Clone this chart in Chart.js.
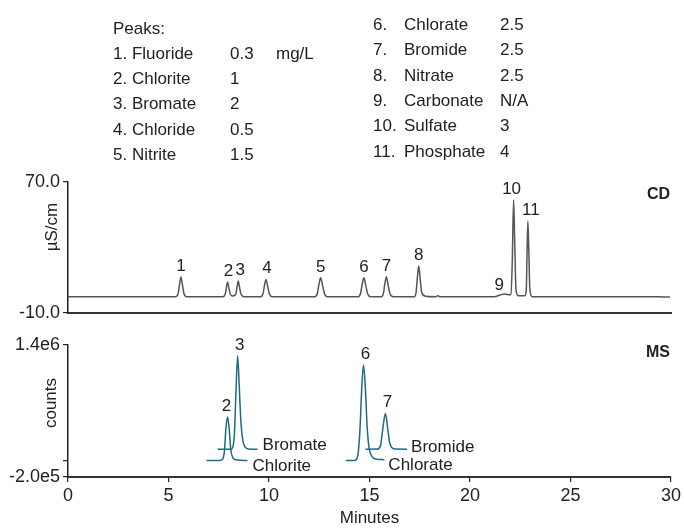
<!DOCTYPE html>
<html>
<head>
<meta charset="utf-8">
<title>CD / MS chromatogram</title>
<script src="https://cdn.jsdelivr.net/npm/chart.js@4.4.1/dist/chart.umd.min.js"></script>
<style>
  html, body { margin: 0; padding: 0; background: #fff; }
  #wrap { position: relative; width: 684px; height: 529px; }
  #cd-chart { position: absolute; left: 0; top: 0; }
  #ms-chart { position: absolute; left: 0; top: 330px; }
</style>
</head>
<body>
<div id="wrap">
  <canvas id="cd-chart" width="684" height="330"></canvas>
  <canvas id="ms-chart" width="684" height="199"></canvas>
</div>
<script>
/* ============================================
   Anion chromatogram — conductivity (CD) over MS
   ============================================ */

// --- Peak table ---
const peakNames = ['Fluoride', 'Chlorite', 'Bromate', 'Chloride', 'Nitrite', 'Chlorate',
                   'Bromide', 'Nitrate', 'Carbonate', 'Sulfate', 'Phosphate'];
const peakConc = ['0.3', '1', '2', '0.5', '1.5', '2.5', '2.5', '2.5', 'N/A', '3', '4'];
const concUnit = 'mg/L';

// --- Axes ---
const xTicks = [0, 5, 10, 15, 20, 25, 30];
const cdTicks = [-10, 70];
const msTicks = [-2e5, 0, 1.4e6];

// --- CD trace (minutes, µS/cm) ---
const cdTime = [
  0.00, 5.36, 5.48, 5.55, 5.62, 5.69, 5.77, 5.90,
  7.70, 7.82, 7.88, 7.94, 8.00, 8.08, 8.20,
  8.35, 8.41, 8.47, 8.53, 8.61, 8.75,
  9.58, 9.70, 9.77, 9.85, 9.93, 10.02, 10.15,
  12.28, 12.40, 12.48, 12.57, 12.66, 12.76, 12.90,
  14.44, 14.55, 14.63, 14.72, 14.81, 14.91, 15.05,
  15.58, 15.69, 15.76, 15.84, 15.92, 16.02, 16.18,
  17.22, 17.32, 17.38, 17.45, 17.52, 17.60, 17.78,
  18.30, 18.40, 18.50,
  21.20, 21.50, 21.70, 21.90, 22.04, 22.10, 22.17, 22.23, 22.29, 22.40,
  22.72, 22.80, 22.84, 22.88, 22.93, 22.98, 23.10,
  29.50, 29.55, 29.95
];
const cdSignal = [
  0.0, 0.0, 1.8, 7.5, 12.0, 7.5, 1.8, 0.0,
  0.0, 1.5, 5.5, 9.0, 5.5, 1.3, 0.4,
  1.5, 6.0, 9.5, 6.0, 1.4, 0.0,
  0.0, 1.6, 6.5, 10.5, 6.5, 1.6, 0.0,
  0.0, 1.8, 7.2, 11.5, 7.2, 1.8, 0.0,
  0.0, 1.8, 7.2, 11.5, 7.0, 1.6, 0.0,
  0.0, 1.9, 7.6, 12.2, 7.4, 1.8, 0.0,
  0.0, 2.8, 11.5, 18.7, 11.0, 2.5, 0.3,
  0.0, 0.6, 0.0,
  0.0, 1.0, 1.6, 1.2, 1.3, 20.0, 59.0, 30.0, 4.0, 0.6,
  0.5, 4.0, 28.0, 46.0, 26.0, 4.0, 0.0,
  0.0, -0.3, -0.3
];
const cdPeakIds = ['1', '2', '3', '4', '5', '6', '7', '8', '9', '10', '11'];
const cdPeakTimes = [5.62, 7.94, 8.47, 9.85, 12.57, 14.72, 15.84, 17.45, 21.70, 22.17, 22.88];

// --- MS extracted ion traces (minutes, counts) ---
const chloriteTime = [6.89, 7.55, 7.70, 7.78, 7.86, 7.94, 8.02, 8.10, 8.20, 8.35, 8.93];
const chloriteCounts = [0, 0, 20e3, 110e3, 400e3, 526e3, 380e3, 130e3, 35e3, 8e3, 0];

const bromateTime = [7.44, 8.10, 8.20, 8.28, 8.36, 8.44, 8.52, 8.60, 8.70, 8.82, 9.00, 9.43];
const bromateCounts = [136e3, 136e3, 160e3, 330e3, 850e3, 1270e3, 900e3, 480e3, 240e3, 160e3, 140e3, 136e3];

const chlorateTime = [13.83, 14.25, 14.40, 14.52, 14.61, 14.70, 14.79, 14.88, 14.98, 15.12, 15.30, 15.74];
const chlorateCounts = [0, 0, 40e3, 350e3, 850e3, 1157e3, 900e3, 420e3, 150e3, 50e3, 18e3, 10e3];

const bromideTime = [14.80, 15.40, 15.55, 15.66, 15.79, 15.90, 16.00, 16.12, 16.30, 16.87];
const bromideCounts = [136e3, 138e3, 185e3, 380e3, 570e3, 400e3, 220e3, 155e3, 138e3, 136e3];

const msPeakIds = ['2', '3', '6', '7'];
const msPeakTimes = [7.94, 8.44, 14.70, 15.79];

// --- Look ---
const FONT = "'Liberation Sans', Arial, sans-serif";
const INK = '#222';
const CD_COLOR = '#555555';
const MS_COLOR = '#1f6b80';

const toPoints = (xs, ys) => xs.map((x, i) => ({ x, y: ys[i] }));

// highest drawn point of any dataset near time t
function peakTop(chart, t) {
  let best = null;
  chart.data.datasets.forEach((ds, di) => {
    const meta = chart.getDatasetMeta(di);
    ds.data.forEach((p, j) => {
      if (Math.abs(p.x - t) > 0.15) return;
      const el = meta.data[j];
      if (!best || el.y < best.y) best = { x: el.x, y: el.y };
    });
  });
  return best;
}

function drawPeakLabels(chart, ids, times, nudge) {
  const ctx = chart.ctx;
  ctx.save();
  ctx.font = '17px ' + FONT;
  ctx.fillStyle = INK;
  ctx.textAlign = 'center';
  ctx.textBaseline = 'alphabetic';
  ids.forEach((id, i) => {
    const top = peakTop(chart, times[i]);
    if (!top) return;
    const dx = (nudge[id] && nudge[id][0]) || 0;
    const dy = (nudge[id] && nudge[id][1]) || 0;
    ctx.fillText(id, top.x + dx, top.y - 6 + dy);
  });
  ctx.restore();
}

function drawYTitle(ctx, text, x, y) {
  ctx.save();
  ctx.translate(x, y);
  ctx.rotate(-Math.PI / 2);
  ctx.font = '17px ' + FONT;
  ctx.fillStyle = INK;
  ctx.textAlign = 'center';
  ctx.textBaseline = 'alphabetic';
  ctx.fillText(text, 0, 0);
  ctx.restore();
}

function baseScales(yMin, yMax, yTicks, yFmt) {
  return {
    x: {
      type: 'linear', min: 0, max: 30,
      afterBuildTicks: s => { s.ticks = xTicks.map(v => ({ value: v })); },
      ticks: { font: { family: FONT, size: 18 }, color: INK, padding: 3, maxRotation: 0 },
      grid: { drawOnChartArea: false, tickLength: 5, color: INK, lineWidth: 1.2 },
      border: { color: '#333', width: 2 }
    },
    y: {
      min: yMin, max: yMax,
      afterBuildTicks: s => { s.ticks = yTicks.map(v => ({ value: v })); },
      ticks: { font: { family: FONT, size: 18 }, color: INK, padding: 3, callback: yFmt },
      grid: { drawOnChartArea: false, tickLength: 5, color: INK, lineWidth: 1.2 },
      border: { color: INK, width: 1.5 },
      afterFit: s => { s.width = 68; }
    }
  };
}

// --- CD panel + peak table ---
const cdDecor = {
  id: 'cdDecor',
  afterDraw(chart) {
    const ctx = chart.ctx;
    ctx.save();
    ctx.font = '17px ' + FONT;
    ctx.fillStyle = INK;
    ctx.textAlign = 'left';
    ctx.textBaseline = 'alphabetic';

    // left column: heading + peaks 1-5
    const rowGap = 25.3;
    ctx.fillText('Peaks:', 113, 33.5);
    for (let i = 0; i < 5; i++) {
      const y = 33.5 + rowGap * (i + 1);
      ctx.fillText((i + 1) + '. ' + peakNames[i], 113, y);
      ctx.fillText(peakConc[i], 230, y);
      if (i === 0) ctx.fillText(concUnit, 276, y);
    }
    // right column: peaks 6-11
    for (let i = 5; i < 11; i++) {
      const y = 30 + rowGap * (i - 5);
      ctx.fillText((i + 1) + '.', 373, y);
      ctx.fillText(peakNames[i], 404, y);
      ctx.fillText(peakConc[i], 500, y);
    }

    ctx.font = 'bold 16px ' + FONT;
    ctx.textAlign = 'right';
    ctx.fillText('CD', 670, 198.5);
    ctx.restore();

    drawYTitle(ctx, 'µS/cm', 57, 227);
    drawPeakLabels(chart, cdPeakIds, cdPeakTimes, { '2': [1, 0], '3': [2, 0], '4': [1, 0], '9': [-5, 2], '10': [-2, 0], '11': [3, 0] });
  }
};

const cdScales = baseScales(-10, 70, cdTicks, v => v.toFixed(1));
cdScales.x.ticks.display = false;
cdScales.x.grid = { display: false, drawTicks: false };
cdScales.x.afterFit = s => { s.height = 0; };

new Chart(document.getElementById('cd-chart'), {
  type: 'line',
  data: {
    datasets: [{
      data: toPoints(cdTime, cdSignal),
      borderColor: CD_COLOR,
      borderWidth: 1.5,
      pointRadius: 0,
      cubicInterpolationMode: 'monotone',
      fill: false
    }]
  },
  options: {
    responsive: false,
    animation: false,
    devicePixelRatio: 1,
    layout: { padding: { top: 182, right: 13, bottom: 17, left: 0 } },
    plugins: { legend: { display: false }, tooltip: { enabled: false } },
    scales: cdScales
  },
  plugins: [cdDecor]
});

// --- MS panel ---
const msTraces = [
  { name: 'Chlorite', time: chloriteTime, counts: chloriteCounts, off: [5, 10] },
  { name: 'Bromate', time: bromateTime, counts: bromateCounts, off: [5, 1] },
  { name: 'Chlorate', time: chlorateTime, counts: chlorateCounts, off: [4, 10.5] },
  { name: 'Bromide', time: bromideTime, counts: bromideCounts, off: [4, 2.5] }
];

const msDecor = {
  id: 'msDecor',
  afterDraw(chart) {
    const ctx = chart.ctx;
    ctx.save();
    ctx.font = '17px ' + FONT;
    ctx.fillStyle = INK;
    ctx.textAlign = 'left';
    ctx.textBaseline = 'alphabetic';
    // trace names sit just right of each trace's last point
    msTraces.forEach((tr, i) => {
      const pts = chart.getDatasetMeta(i).data;
      const last = pts[pts.length - 1];
      ctx.fillText(tr.name, last.x + tr.off[0], last.y + tr.off[1]);
    });
    ctx.font = 'bold 16px ' + FONT;
    ctx.textAlign = 'right';
    ctx.fillText('MS', 670, 26.5);
    ctx.restore();

    drawYTitle(ctx, 'counts', 56, 73);
    drawPeakLabels(chart, msPeakIds, msPeakTimes, { '2': [-1, 0], '3': [2, 0], '6': [2, 0], '7': [2, 0] });
  }
};

const msScales = baseScales(-2e5, 1.4e6, msTicks,
  v => (v === 0 ? '' : v.toExponential(1).replace('e+', 'e')));
msScales.x.title = { display: true, text: 'Minutes', color: INK, font: { family: FONT, size: 17 }, padding: { top: 0, bottom: 0 } };
msScales.x.afterFit = s => { s.height = 52; };

new Chart(document.getElementById('ms-chart'), {
  type: 'line',
  data: {
    datasets: msTraces.map(tr => ({
      data: toPoints(tr.time, tr.counts),
      borderColor: MS_COLOR,
      borderWidth: 1.5,
      pointRadius: 0,
      cubicInterpolationMode: 'monotone',
      fill: false
    }))
  },
  options: {
    responsive: false,
    animation: false,
    devicePixelRatio: 1,
    layout: { padding: { top: 15, right: 13, bottom: 0, left: 0 } },
    plugins: { legend: { display: false }, tooltip: { enabled: false } },
    scales: msScales
  },
  plugins: [msDecor]
});
</script>
</body>
</html>
